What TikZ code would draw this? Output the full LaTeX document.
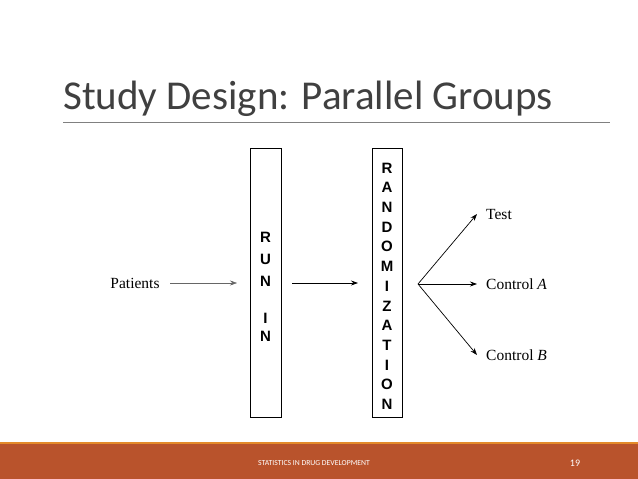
\documentclass[tikz,border=0pt]{standalone}
\usepackage{fontspec}
\setmainfont{Liberation Serif}
\newfontfamily\titlefont{Carlito}
\newfontfamily\boxfont{Liberation Sans}
\usetikzlibrary{arrows.meta}
\definecolor{band}{HTML}{B9532C}
\definecolor{bandline}{HTML}{E48A2A}
\definecolor{titlegray}{HTML}{404040}
\tikzset{
  stage/.style={draw, line width=1pt},
  lbl/.style={font=\fontsize{15.5}{17}\selectfont, anchor=west, inner sep=0},
  let/.style={font=\boxfont\bfseries\fontsize{15}{15}\selectfont, inner sep=0},
  arr/.style={-{Stealth[length=7pt,width=5pt]}, line width=0.7pt}
}
\begin{document}
\begin{tikzpicture}[x=1pt,y=-1pt]
\useasboundingbox (0,0) rectangle (638,479);
\fill[white] (0,0) rectangle (638,479);
% title
\node[anchor=base west, inner sep=0, text=titlegray, font=\titlefont\fontsize{41}{46}\selectfont] (title) at (63,109) {Study Design: Parallel Groups};
\draw[gray, line width=0.6pt] (63,122) -- (610,122);
% footer
\fill[band] (0,443) rectangle (638,479);
\fill[bandline] (0,441.5) rectangle (638,443.5);
\node[text=white, font=\titlefont\fontsize{7.7}{8}\selectfont] (foot) at (314,463) {STATISTICS IN DRUG DEVELOPMENT};
\node[text=white, font=\titlefont\fontsize{10}{10}\selectfont] (num) at (575,463) {19};
% boxes
\node[stage, minimum width=31pt, minimum height=269pt, inner sep=0] (run) at (265.5,283) {};
\node[stage, minimum width=30pt, minimum height=269pt, inner sep=0] (rand) at (387,283) {};
\foreach \l/\y in {R/237,U/259,N/281,I/318,N/336}{
  \node[let] at (265.5,\y) {\l};
}
\foreach \l [count=\i from 0] in {R,A,N,D,O,M,I,Z,A,T,I,O,N}{
  \node[let] at (387,168+\i*19.7) {\l};
}
% labels
\node[lbl, anchor=center] (pat) at (135,283) {Patients};
\node[lbl] (test) at (486,214) {Test};
\node[lbl] (ca) at (486,284) {Control \textit{A}};
\node[lbl] (cb) at (486,355) {Control \textit{B}};
\coordinate (br) at (418,284);
% arrows
\draw[arr, gray!80!black, line width=0.5pt] (170,283) -- (237,283);
\draw[arr] (292,283) -- (358,283);
\draw[arr] (br) -- ([xshift=-9pt]test.west);
\draw[arr] (br) -- ([xshift=-9pt]ca.west);
\draw[arr] (br) -- ([xshift=-9pt]cb.west);
\end{tikzpicture}
\end{document}
